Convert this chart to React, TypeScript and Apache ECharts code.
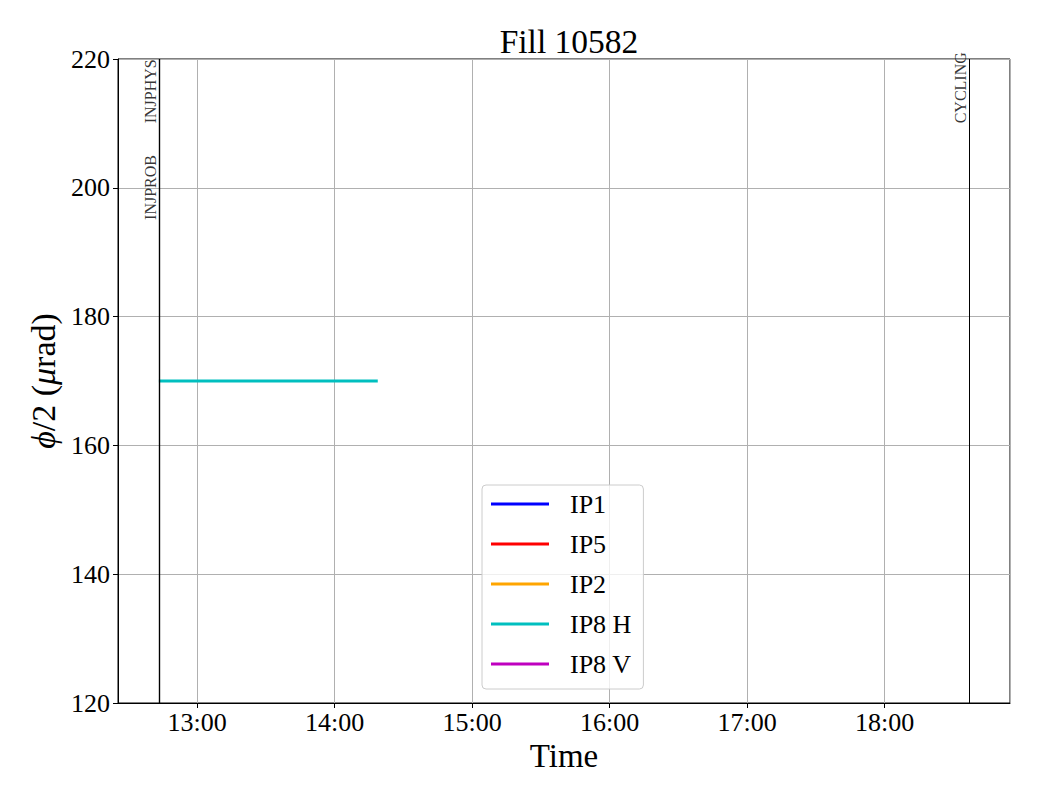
import React, { useEffect, useRef } from "react";
import * as echarts from "echarts";

const DAY = [2024, 3, 7];
const FONT = "Liberation Serif";

const titleText = "Fill 10582";
const xAxisName = "Time";
const xMin = "12:25:30";
const xMax = "18:54:40";
const yMin = 120;
const yMax = 220;
const yStep = 20;

const seriesNames = ["IP1", "IP5", "IP2", "IP8 H", "IP8 V"];
const seriesColors = ["#0000ff", "#ff0000", "#ffa500", "#00bfbf", "#bf00bf"];
const seriesWidths = [2, 2, 3, 3, 3];

const ip1Times: string[] = [];
const ip1Values: number[] = [];
const ip5Times: string[] = [];
const ip5Values: number[] = [];
const ip2Times: string[] = [];
const ip2Values: number[] = [];
const ip8hTimes = ["12:43:20", "14:18:50"];
const ip8hValues = [170, 170];
const ip8vTimes: string[] = [];
const ip8vValues: number[] = [];

const eventNames = ["INJPROB", "INJPHYS", "CYCLING"];
const eventTimes = ["12:43:20", "12:43:20", "18:36:45"];
const eventLabelY = [195, 210, 210];
const eventLineWidths = [1.2, 1.2, 1];

function ts(s: string): number {
  const [h, m, sec] = s.split(":").map(Number);
  return new Date(DAY[0], DAY[1], DAY[2], h, m, sec || 0).getTime();
}
function pad(n: number) {
  return (n < 10 ? "0" : "") + n;
}

export default function App() {
  const ref = useRef<HTMLDivElement>(null);
  useEffect(() => {
    if (!ref.current) return;
    const chart = echarts.init(ref.current, undefined, { renderer: "svg" });
    const allTimes = [ip1Times, ip5Times, ip2Times, ip8hTimes, ip8vTimes];
    const allValues = [ip1Values, ip5Values, ip2Values, ip8hValues, ip8vValues];
    const lineSeries = seriesNames.map((name, i) => ({
      name,
      type: "line",
      showSymbol: false,
      symbol: "none",
      data: allTimes[i].map((t, j) => [ts(t), allValues[i][j]]),
      lineStyle: { color: seriesColors[i], width: seriesWidths[i] },
      itemStyle: { color: seriesColors[i] },
      z: 3,
    }));
    const option: any = {
      animation: false,
      backgroundColor: "#ffffff",
      textStyle: { fontFamily: FONT, color: "#000" },
      title: {
        text: titleText,
        left: 564,
        top: 19,
        textAlign: "center",
        textStyle: { fontFamily: FONT, fontSize: 33.5, fontWeight: "normal", color: "#000" },
      },
      grid: {
        left: 118,
        right: 30,
        top: 59,
        bottom: 97,
        show: true,
        borderColor: "#000",
        borderWidth: 1,
        backgroundColor: "transparent",
      },
      legend: {
        data: seriesNames.map((n, i) => ({
          name: n,
          icon: "rect",
          itemStyle: { color: seriesColors[i] },
        })),
        orient: "vertical",
        left: 482,
        top: 485,
        itemWidth: 58,
        itemHeight: 3,
        itemGap: 14,
        padding: [6, 12, 12, 9],
        backgroundColor: "rgba(255,255,255,0.8)",
        borderColor: "#cccccc",
        borderWidth: 1,
        borderRadius: 4,
        textStyle: { fontFamily: FONT, fontSize: 26, lineHeight: 26, color: "#000", padding: [0, 0, 0, 16] },
        z: 10,
      },
      xAxis: {
        type: "time",
        min: ts(xMin),
        max: ts(xMax),
        minInterval: 3600 * 1000,
        maxInterval: 3600 * 1000,
        name: xAxisName,
        nameLocation: "middle",
        nameGap: 27,
        nameTextStyle: { fontFamily: FONT, fontSize: 33, color: "#000" },
        axisLine: { lineStyle: { color: "#000", width: 1 } },
        axisTick: { show: true, inside: false, length: 5, lineStyle: { color: "#000" } },
        axisLabel: {
          fontFamily: FONT,
          fontSize: 26,
          color: "#000",
          margin: 6,
          showMinLabel: false,
          showMaxLabel: false,
          formatter: (v: number) => {
            const d = new Date(v);
            return pad(d.getHours()) + ":" + pad(d.getMinutes());
          },
        },
        splitLine: { show: true, lineStyle: { color: "#b0b0b0", width: 1 } },
        minorTick: { show: false },
      },
      yAxis: {
        type: "value",
        min: yMin,
        max: yMax,
        interval: yStep,
        name: "{i|ϕ}/2 ({i|μ}rad)",
        nameLocation: "middle",
        nameGap: 57,
        nameTextStyle: {
          fontFamily: FONT,
          fontSize: 34,
          color: "#000",
          rich: { i: { fontFamily: FONT, fontSize: 34, fontStyle: "italic", color: "#000" } },
        },
        axisLine: { show: true, lineStyle: { color: "#000", width: 1 } },
        axisTick: { show: true, inside: false, length: 5, lineStyle: { color: "#000" } },
        axisLabel: { fontFamily: FONT, fontSize: 26, color: "#000", margin: 8 },
        splitLine: { show: true, lineStyle: { color: "#b0b0b0", width: 1 } },
      },
      series: [
        ...lineSeries,
        {
          name: "events",
          type: "line",
          data: [],
          silent: true,
          markLine: {
            silent: true,
            symbol: ["none", "none"],
            label: { show: false },
            lineStyle: { color: "#000", width: 1, type: "solid" },
            data: eventTimes.map((t, i) => ({
              xAxis: ts(t),
              lineStyle: { color: "#000", width: eventLineWidths[i], type: "solid" },
            })),
          },
          z: 4,
        },
        {
          name: "eventLabels",
          type: "scatter",
          symbolSize: 0.1,
          itemStyle: { color: "rgba(0,0,0,0)" },
          silent: true,
          data: eventNames.map((n, i) => [ts(eventTimes[i]), eventLabelY[i], n]),
          label: {
            show: true,
            position: [0, 0],
            rotate: 90,
            align: "left",
            verticalAlign: "bottom",
            offset: [0, 0],
            fontFamily: FONT,
            fontSize: 16,
            color: "#000",
            formatter: (p: any) => p.data[2],
          },
          z: 5,
        },
      ],
    };
    chart.setOption(option);
    return () => chart.dispose();
  }, []);
  return (
    <div
      ref={ref}
      style={{ position: "fixed", left: 0, top: 0, width: 1040, height: 800, background: "#fff" }}
    />
  );
}
